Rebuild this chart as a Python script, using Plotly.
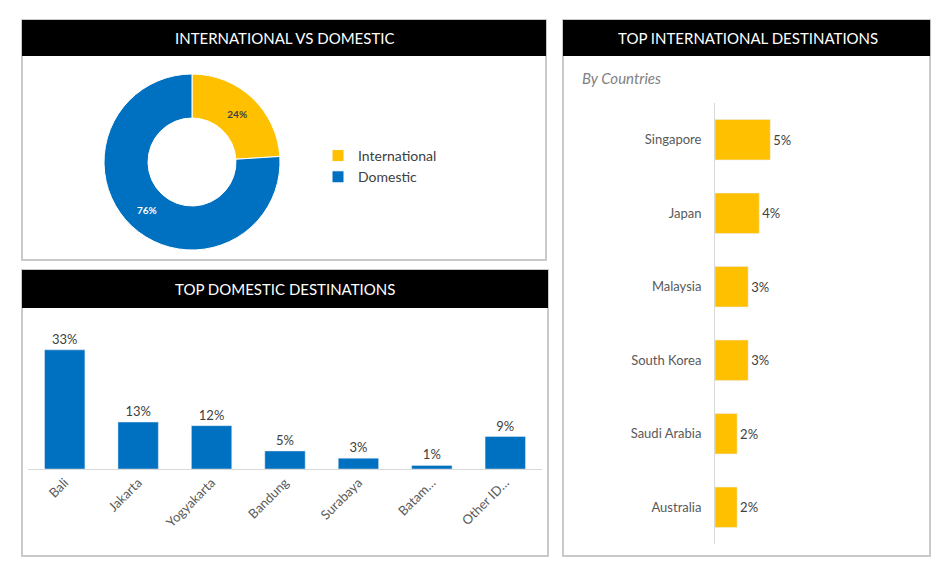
import plotly.graph_objects as go

W, H = 939, 586
OFF = 8
FW, FH = W - 2 * OFF, H - 2 * OFF
split_labels = ["International", "Domestic"]
split_values = [24, 76]
dom_cats = ["Bali", "Jakarta", "Yogyakarta", "Bandung", "Surabaya", "Batam…", "Other ID…"]
dom_vals = [33, 13, 12, 5, 3, 1, 9]
int_cats = ["Singapore", "Japan", "Malaysia", "South Korea", "Saudi Arabia", "Australia"]
int_vals = [5, 4, 3, 3, 2, 2]

YEL, BLU = "#FFC000", "#0070C0"
FONT = "Lato"

def px(x): return min((x - OFF) / FW, 0.999)
def py(y): return 1 - (y - OFF) / FH

fig = go.Figure()
fig.add_trace(go.Pie(labels=split_labels, values=split_values, hole=0.5, sort=False,
    direction="clockwise", rotation=0, marker=dict(colors=[YEL, BLU], line=dict(color="white", width=1)),
    texttemplate="<b>%{percent:.0%}</b>", textposition="inside", insidetextorientation="horizontal",
    textfont=dict(size=10, family=FONT, color=["#404040", "white"]),
    domain=dict(x=[px(104), px(280)], y=[py(250), py(74)]), showlegend=True))
fig.add_trace(go.Bar(x=dom_cats, y=dom_vals, marker_color=BLU, width=0.55,
    text=[f"{v}%" for v in dom_vals], textposition="outside", cliponaxis=False,
    textfont=dict(size=13, color="#404040", family=FONT), xaxis="x", yaxis="y", showlegend=False))
fig.add_trace(go.Bar(y=int_cats, x=int_vals, orientation="h", marker_color=YEL, width=0.55,
    text=[f"{v}%" for v in int_vals], textposition="outside", cliponaxis=False,
    textfont=dict(size=13, color="#404040", family=FONT), xaxis="x2", yaxis="y2", showlegend=False))

fig.update_layout(
    width=FW, height=FH, margin=dict(l=0, r=0, t=0, b=0), paper_bgcolor="white", plot_bgcolor="white",
    font=dict(family=FONT, color="#404040"),
    legend=dict(x=px(318), y=py(140), xanchor="left", yanchor="top", font=dict(size=14, color="#404040"),
                itemwidth=30, tracegroupgap=6),
    xaxis=dict(domain=[px(28), px(542)], showline=True, linecolor="#d9d9d9", tickangle=-45,
               tickfont=dict(size=13, color="#595959"), ticks="", showgrid=False),
    yaxis=dict(domain=[py(469), py(339)], range=[0, 36], visible=False),
    xaxis2=dict(domain=[px(715), px(925)], range=[0, 19], visible=False),
    yaxis2=dict(domain=[py(544), py(103)], autorange="reversed", showline=True, linecolor="#d9d9d9",
                ticks="", ticklabelstandoff=10, tickfont=dict(size=13, color="#595959"), anchor="x2"),
    bargap=0.45,
)

shapes = []
for (x0, y0, x1, y1) in [(22, 20, 546, 260), (22, 270, 548, 556), (563, 20, 932, 556)]:
    shapes.append(dict(type="rect", xref="paper", yref="paper", x0=px(x0), x1=px(x1), y0=py(y1), y1=py(y0),
                       line=dict(color="#c9c9c9", width=2), fillcolor="rgba(0,0,0,0)", layer="below"))
titles = [((22, 20, 546, 56), "INTERNATIONAL VS DOMESTIC"),
          ((22, 270, 548, 308), "TOP DOMESTIC DESTINATIONS"),
          ((563, 20, 932, 56), "TOP INTERNATIONAL DESTINATIONS")]
anns = []
for (x0, y0, x1, y1), t in titles:
    shapes.append(dict(type="rect", xref="paper", yref="paper", x0=px(x0), x1=px(x1), y0=py(y1), y1=py(y0),
                       line=dict(width=0), fillcolor="black"))
    anns.append(dict(x=px((x0 + x1) / 2), y=py((y0 + y1) / 2), xref="paper", yref="paper", text=t,
                     xanchor="center", yanchor="middle",
                     showarrow=False, font=dict(size=15, color="white", family=FONT)))
anns.append(dict(x=px(580), y=py(78), xref="paper", yref="paper", xanchor="left", yanchor="middle",
                 text="<i>By Countries</i>", showarrow=False, font=dict(size=15, color="#7f7f7f", family=FONT)))
fig.update_layout(shapes=shapes, annotations=anns)
fig.write_html("out.html")
